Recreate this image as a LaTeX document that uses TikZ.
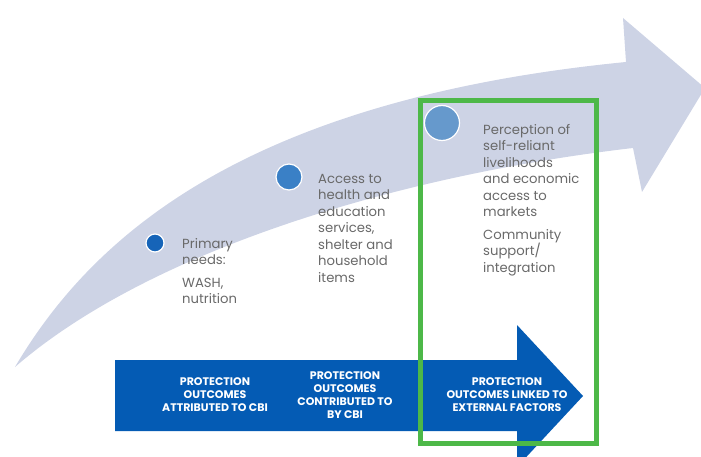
\documentclass[tikz,border=0pt]{standalone}
\usepackage{fontspec}
\setmainfont{Poppins}
\usepackage{tikz}
\usetikzlibrary{positioning}
\definecolor{bandgray}{RGB}{205,211,229}
\definecolor{arrowblue}{RGB}{4,91,180}
\definecolor{textgray}{RGB}{105,105,105}
\definecolor{boxgreen}{RGB}{77,184,72}
\definecolor{dotdark}{RGB}{22,100,184}
\definecolor{dotmid}{RGB}{58,128,198}
\definecolor{dotlight}{RGB}{102,153,204}
\tikzstyle{dot}=[circle,draw=white,line width=1.2pt,inner sep=0pt]
\tikzstyle{steptext}=[anchor=north west,inner sep=0pt,align=left,text=textgray,font=\fontsize{13.2}{16.5}\selectfont]
\tikzstyle{caplabel}=[align=center,text=white,inner sep=0pt,font=\bfseries\fontsize{11}{13}\selectfont]
\tikzstyle{focusbox}=[draw=boxgreen,line width=5pt,inner sep=0pt,minimum width=176pt,minimum height=342pt]

\begin{document}
\begin{tikzpicture}[x=1pt,y=-1pt]

  \useasboundingbox (0,0) rectangle (701,457);

  % curved band
  \fill[bandgray] (15,367) .. controls (90,240) and (240,100) .. (626,62)
      -- (623,18) -- (705,88) -- (642,192) -- (633,148)
      .. controls (400,175) and (150,250) .. (15,367) -- cycle;

  % straight arrow
  \fill[arrowblue] (115,360) -- (517,360) -- (517,325) -- (583,396)
      -- (517,467) -- (517,431) -- (115,431) -- cycle;

  \foreach \x/\y/\s/\name/\col in {155/243/18/dotA/dotdark, 289/177/26/dotB/dotmid, 442/123/35/dotC/dotlight}
          \node[dot,minimum size=\s pt,fill=\col] (\name) at (\x,\y) {};

  \node[steptext] (primary) at (182,238) {Primary\\needs:\\[6pt]WASH,\\nutrition};
  \node[steptext] (access) at (318,174) {Access to\\health and\\education\\services,\\shelter and\\household\\items};
  \node[steptext] (perception) at (483,124) {Perception of\\self-reliant\\livelihoods\\and economic\\access to\\markets\\[6pt]Community\\support/\\integration};

  \foreach \x/\name/\label in {215/attributed/{PROTECTION\\OUTCOMES\\ATTRIBUTED TO CBI}, 345/contributed/{PROTECTION\\OUTCOMES\\CONTRIBUTED TO\\BY CBI}, 507/external/{PROTECTION\\OUTCOMES LINKED TO\\EXTERNAL FACTORS}}
          \node[caplabel] (\name) at (\x,395) {\label};

  \node[focusbox] (focus) at (508,272) {};

\end{tikzpicture}
\end{document}
